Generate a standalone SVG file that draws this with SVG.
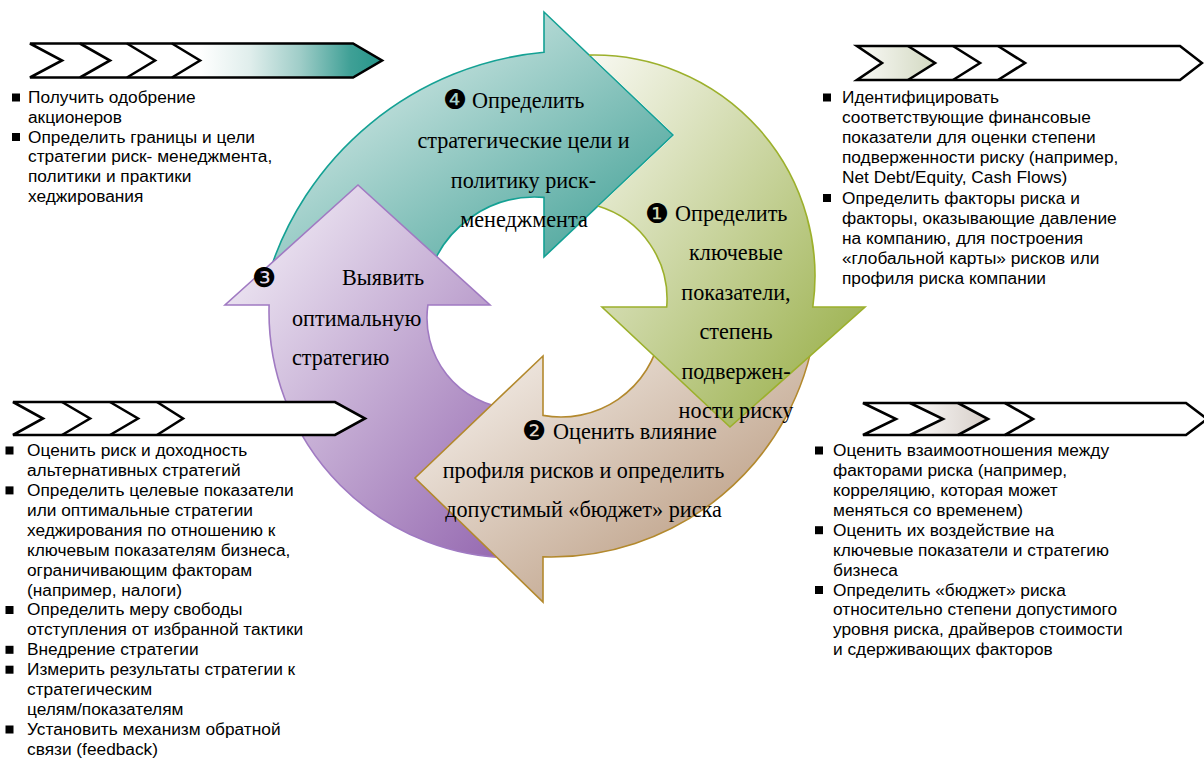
<svg xmlns="http://www.w3.org/2000/svg" width="1204" height="758" viewBox="0 0 1204 758">
<defs>
<style>
.bt{font-family:"Liberation Sans",Arial,sans-serif;font-size:17.3px;fill:#000}
.ct{font-family:"Liberation Serif","Times New Roman",serif;font-size:22.2px;fill:#000}
.cm{font-family:"Liberation Serif","Times New Roman",serif;font-size:22.2px;fill:#000;text-anchor:middle}
.num{font-family:"DejaVu Sans",sans-serif;font-size:27px;fill:#000;text-anchor:middle}
.bar{fill:#fff;stroke:none}
.barline{fill:none;stroke:#000;stroke-width:2.6;stroke-linejoin:miter}
.bul{fill:#000}
</style>
<linearGradient id="gTeal" x1="0" y1="0" x2="1" y2="1"><stop offset="0" stop-color="#f5f9f8"/><stop offset="1" stop-color="#349a8f"/></linearGradient>
<linearGradient id="gGreen" x1="0" y1="0" x2="1" y2="1"><stop offset="0" stop-color="#f8f8f1"/><stop offset="1" stop-color="#92aa3d"/></linearGradient>
<linearGradient id="gBrown" x1="0" y1="0" x2="1" y2="1"><stop offset="0" stop-color="#fcfaf8"/><stop offset="1" stop-color="#ae8a6b"/></linearGradient>
<linearGradient id="gPurple" x1="0" y1="0" x2="1" y2="1"><stop offset="0" stop-color="#f9f7fb"/><stop offset="1" stop-color="#9264ae"/></linearGradient>
<linearGradient id="gBarTeal" x1="0" y1="0" x2="1" y2="0"><stop offset="0" stop-color="#fff"/><stop offset="0.13" stop-color="#fff"/><stop offset="0.37" stop-color="#e0eeec"/><stop offset="0.61" stop-color="#9fcdc8"/><stop offset="0.85" stop-color="#3fa096"/><stop offset="1" stop-color="#259589"/></linearGradient>
<linearGradient id="gBarGreen" x1="0" y1="0" x2="1" y2="0"><stop offset="0" stop-color="#fafaf7"/><stop offset="1" stop-color="#d3d9c2"/></linearGradient>
<linearGradient id="gBarBrown" x1="0" y1="0" x2="1" y2="0"><stop offset="0" stop-color="#fbfaf9"/><stop offset="1" stop-color="#d6cec8"/></linearGradient>
</defs>

<g id="connectors"></g>

<!-- Step 4 (teal) -->
<g id="step4">
<path d="M 544 197.4 L 544 257 L 673 135 L 544 12 L 544 52.3 A 319 319 0 0 0 267 280 L 427.6 280 A 111 111 0 0 1 544 197.4 Z" fill="url(#gTeal)" stroke="#14a194" stroke-width="1.6" stroke-linejoin="miter"/>
<text class="num" x="455" y="109">❹</text>
<text class="ct" x="472" y="108">Определить</text>
<text class="cm" x="523.5" y="148">стратегические цели и</text>
<text class="cm" x="523.5" y="187.5">политику риск-</text>
<text class="cm" x="524" y="227">менеджмента</text>
</g>

<!-- Step 3 (purple) -->
<g id="step3">
<path d="M 358 185 L 490 305 L 427.9 305 A 91 91 0 0 0 510 408.6 L 520 557.9 A 246 246 0 0 1 269.1 305 L 225 305 Z" fill="url(#gPurple)" stroke="#a07ac2" stroke-width="1.6" stroke-linejoin="miter"/>
<text class="num" x="264" y="286.5">❸</text>
<text class="ct" x="342" y="285">Выявить</text>
<text class="ct" x="292" y="326">оптимальную</text>
<text class="ct" x="292" y="365">стратегию</text>
</g>

<!-- Step 2 (brown) -->
<g id="step2">
<path d="M 543 356 L 415 478 L 543 602 L 543 556.9 A 267 267 0 0 0 815 330 L 660.2 335 A 101 101 0 0 1 543 415.4 Z" fill="url(#gBrown)" stroke="#b3892d" stroke-width="1.6" stroke-linejoin="miter"/>
<text class="num" x="534" y="440">❷</text>
<text class="ct" x="553" y="438.5">Оценить влияние</text>
<text class="cm" x="583.5" y="478">профиля рисков и определить</text>
<text class="cm" x="583.5" y="517">допустимый «бюджет» риска</text>
</g>

<!-- Step 1 (green) -->
<g id="step1">
<path d="M 602 307 L 730 427 L 865 307 L 812.8 307 A 221 221 0 0 0 590.4 55.1 L 674.6 135 L 599 206.1 A 97 97 0 0 1 666.7 307 Z" fill="url(#gGreen)" stroke="none"/>
<path d="M 597.8 206.1 A 97 97 0 0 1 666.7 307 L 602 307 L 730 427 L 865 307 L 812.8 307 A 221 221 0 0 0 589.2 55.1" fill="none" stroke="#9cb02c" stroke-width="1.6" stroke-linejoin="miter"/>
<text class="num" x="657" y="223">❶</text>
<text class="ct" x="675" y="220.5">Определить</text>
<text class="cm" x="736" y="260">ключевые</text>
<text class="cm" x="736" y="299.5">показатели,</text>
<text class="cm" x="736" y="339">степень</text>
<text class="cm" x="736" y="378.5">подвержен-</text>
<text class="cm" x="736" y="418">ности риску</text>
</g>

<!-- Panel: top-left -->
<g id="panel4">
<path class="bar" d="M 30 43.5 L 353 43.5 L 382 60.5 L 353 77.5 L 30 77.5 L 62 60.5 Z"/>
<path d="M 172 43.5 L 353 43.5 L 382 60.5 L 353 77.5 L 172 77.5 L 200 60.5 Z" fill="url(#gBarTeal)"/>
<path class="barline" d="M 30 43.5 L 353 43.5 L 382 60.5 L 353 77.5 L 30 77.5 L 62 60.5 Z"/>
<path class="barline" d="M 80 43.5 L 110 60.5 L 80 77.5 M 127 43.5 L 155 60.5 L 127 77.5 M 172 43.5 L 200 60.5 L 172 77.5"/>
<rect class="bul" x="12" y="93.5" width="8" height="8"/>
<rect class="bul" x="12" y="133" width="8" height="8"/>
<text class="bt"><tspan x="28" y="103">Получить одобрение</tspan><tspan x="28" y="122.8">акционеров</tspan><tspan x="28" y="142.6">Определить границы и цели</tspan><tspan x="28" y="162.4">стратегии риск- менеджмента,</tspan><tspan x="28" y="182.2">политики и практики</tspan><tspan x="28" y="202">хеджирования</tspan></text>
</g>

<!-- Panel: top-right -->
<g id="panel1">
<path class="bar" d="M 857 46 L 1180 46 L 1202 63 L 1180 80 L 857 80 L 882 63 Z"/>
<path d="M 857 46 L 908 46 L 935 63 L 908 80 L 857 80 L 882 63 Z" fill="url(#gBarGreen)"/>
<path class="barline" d="M 857 46 L 1180 46 L 1202 63 L 1180 80 L 857 80 L 882 63 Z"/>
<path class="barline" d="M 908 46 L 935 63 L 908 80 M 953 46 L 980 63 L 953 80 M 998 46 L 1025 63 L 998 80"/>
<rect class="bul" x="823" y="93.5" width="8" height="8"/>
<rect class="bul" x="823" y="194" width="8" height="8"/>
<text class="bt"><tspan x="842" y="103">Идентифицировать</tspan><tspan x="842" y="123.1">соответствующие финансовые</tspan><tspan x="842" y="143.2">показатели для оценки степени</tspan><tspan x="842" y="163.3">подверженности риску (например,</tspan><tspan x="842" y="183.4">Net Debt/Equity, Cash Flows)</tspan><tspan x="842" y="203.5">Определить факторы риска и</tspan><tspan x="842" y="223.6">факторы, оказывающие давление</tspan><tspan x="842" y="243.7">на компанию, для построения</tspan><tspan x="842" y="263.8">«глобальной карты» рисков или</tspan><tspan x="842" y="283.9">профиля риска компании</tspan></text>
</g>

<!-- Panel: bottom-left -->
<g id="panel3">
<path class="bar" d="M 13 402 L 335 402 L 365 418.5 L 335 435 L 13 435 L 43 418.5 Z"/>
<path class="barline" d="M 13 402 L 335 402 L 365 418.5 L 335 435 L 13 435 L 43 418.5 Z"/>
<path class="barline" d="M 62 402 L 90 418.5 L 62 435 M 110 402 L 138 418.5 L 110 435 M 157 402 L 183 418.5 L 157 435"/>
<rect class="bul" x="5.5" y="446.5" width="8" height="8"/>
<rect class="bul" x="5.5" y="486.4" width="8" height="8"/>
<rect class="bul" x="5.5" y="606" width="8" height="8"/>
<rect class="bul" x="5.5" y="645.8" width="8" height="8"/>
<rect class="bul" x="5.5" y="665.7" width="8" height="8"/>
<rect class="bul" x="5.5" y="725.5" width="8" height="8"/>
<text class="bt"><tspan x="27" y="456">Оценить риск и доходность</tspan><tspan x="27" y="475.9">альтернативных стратегий</tspan><tspan x="27" y="495.9">Определить целевые показатели</tspan><tspan x="27" y="515.8">или оптимальные стратегии</tspan><tspan x="27" y="535.7">хеджирования по отношению к</tspan><tspan x="27" y="555.7">ключевым показателям бизнеса,</tspan><tspan x="27" y="575.6">ограничивающим факторам</tspan><tspan x="27" y="595.5">(например, налоги)</tspan><tspan x="27" y="615.4">Определить меру свободы</tspan><tspan x="27" y="635.4">отступления от избранной тактики</tspan><tspan x="27" y="655.3">Внедрение стратегии</tspan><tspan x="27" y="675.2">Измерить результаты стратегии к</tspan><tspan x="27" y="695.2">стратегическим</tspan><tspan x="27" y="715.1">целям/показателям</tspan><tspan x="27" y="735">Установить механизм обратной</tspan><tspan x="27" y="755">связи (feedback)</tspan></text>
</g>

<!-- Panel: bottom-right -->
<g id="panel2">
<path class="bar" d="M 863 403 L 1186 403 L 1207 419 L 1186 435 L 863 435 L 896 419 Z"/>
<path d="M 910 403 L 958 403 L 988 419 L 958 435 L 910 435 L 943 419 Z" fill="url(#gBarBrown)"/>
<path class="barline" d="M 863 403 L 1186 403 L 1207 419 L 1186 435 L 863 435 L 896 419 Z"/>
<path class="barline" d="M 910 403 L 943 419 L 910 435 M 958 403 L 988 419 L 958 435 M 1005 403 L 1033 419 L 1005 435"/>
<rect class="bul" x="815" y="446.5" width="8" height="8"/>
<rect class="bul" x="815" y="526.2" width="8" height="8"/>
<rect class="bul" x="815" y="586" width="8" height="8"/>
<text class="bt"><tspan x="833" y="456">Оценить взаимоотношения между</tspan><tspan x="833" y="475.9">факторами риска (например,</tspan><tspan x="833" y="495.9">корреляцию, которая может</tspan><tspan x="833" y="515.8">меняться со временем)</tspan><tspan x="833" y="535.7">Оценить их воздействие на</tspan><tspan x="833" y="555.7">ключевые показатели и стратегию</tspan><tspan x="833" y="575.6">бизнеса</tspan><tspan x="833" y="595.5">Определить «бюджет» риска</tspan><tspan x="833" y="615.4">относительно степени допустимого</tspan><tspan x="833" y="635.4">уровня риска, драйверов стоимости</tspan><tspan x="833" y="655.3">и сдерживающих факторов</tspan></text>
</g>
</svg>
